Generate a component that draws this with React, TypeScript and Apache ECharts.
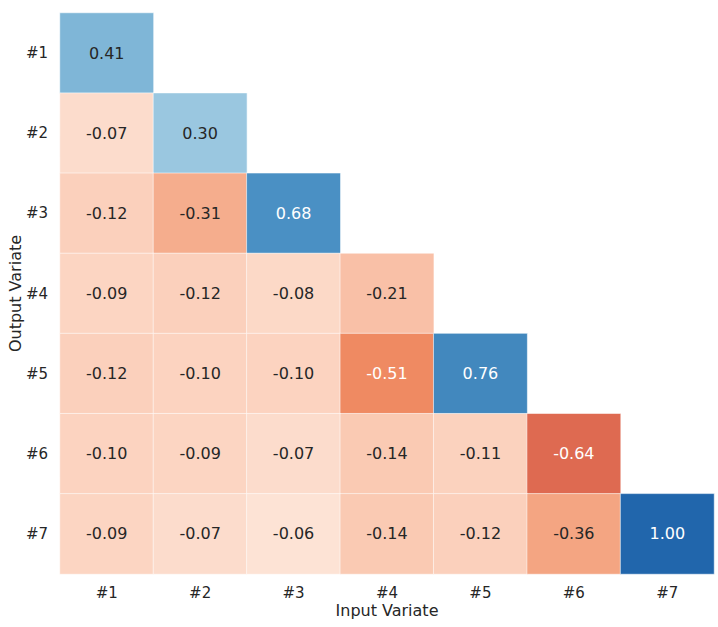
import React, { useEffect, useRef } from "react";
import * as echarts from "echarts";

const inputLabels = ["#1", "#2", "#3", "#4", "#5", "#6", "#7"];
const outputLabels = ["#1", "#2", "#3", "#4", "#5", "#6", "#7"];

const row1 = [0.41];
const row2 = [-0.07, 0.3];
const row3 = [-0.12, -0.31, 0.68];
const row4 = [-0.09, -0.12, -0.08, -0.21];
const row5 = [-0.12, -0.1, -0.1, -0.51, 0.76];
const row6 = [-0.1, -0.09, -0.07, -0.14, -0.11, -0.64];
const row7 = [-0.09, -0.07, -0.06, -0.14, -0.12, -0.36, 1.0];
const rows = [row1, row2, row3, row4, row5, row6, row7];

// colour map anchor stops (value -> colour)
const colorStops: [number, string][] = [
  [-0.64, "#de6a51"],
  [-0.51, "#ef8a62"],
  [-0.36, "#f4a582"],
  [-0.31, "#f5ad8d"],
  [-0.21, "#f9c0a7"],
  [-0.14, "#facab3"],
  [-0.12, "#fbd0bc"],
  [-0.09, "#fcd5c2"],
  [-0.07, "#fcdccc"],
  [-0.06, "#fde3d5"],
  [0.0, "#f7efec"],
  [0.3, "#9ac7e0"],
  [0.41, "#7fb6d7"],
  [0.68, "#4a90c4"],
  [0.76, "#4288be"],
  [1.0, "#2166ac"],
];

function hexToRgb(h: string) {
  const n = parseInt(h.slice(1), 16);
  return [(n >> 16) & 255, (n >> 8) & 255, n & 255];
}
function colorFor(v: number) {
  if (v <= colorStops[0][0]) return colorStops[0][1];
  for (let i = 1; i < colorStops.length; i++) {
    const [v1, c1] = colorStops[i];
    const [v0, c0] = colorStops[i - 1];
    if (v <= v1) {
      const t = (v - v0) / (v1 - v0);
      const a = hexToRgb(c0);
      const b = hexToRgb(c1);
      const m = a.map((x, k) => Math.round(x + (b[k] - x) * t));
      return `rgb(${m[0]},${m[1]},${m[2]})`;
    }
  }
  return colorStops[colorStops.length - 1][1];
}

export default function App() {
  const ref = useRef<HTMLDivElement>(null);
  useEffect(() => {
    document.body.style.margin = "0";
    if (!ref.current) return;
    const chart = echarts.init(ref.current, null, { renderer: "svg" });
    const data: any[] = [];
    rows.forEach((r, y) => {
      r.forEach((v, x) => {
        const dark = v >= 0.5 || v <= -0.45;
        data.push({
          value: [x, y, v],
          label: { color: dark ? "#ffffff" : "#262626" },
        });
      });
    });
    const vmin = -0.64;
    const vmax = 1.0;
    const steps = 328;
    const palette: string[] = [];
    for (let i = 0; i <= steps; i++) palette.push(colorFor(vmin + ((vmax - vmin) * i) / steps));
    const font = "DejaVu Sans";
    chart.setOption({
      animation: false,
      backgroundColor: "#ffffff",
      grid: { left: 60, right: 4, top: 13, bottom: 53, containLabel: false, outerBoundsMode: "none" },
      visualMap: {
        type: "continuous",
        show: false,
        min: vmin,
        max: vmax,
        dimension: 2,
        inRange: { color: palette },
      },
      xAxis: {
        type: "category",
        data: inputLabels,
        name: "Input Variate",
        nameLocation: "middle",
        nameGap: 28,
        nameMoveOverlap: false,
        nameTextStyle: { fontFamily: font, fontSize: 16, color: "#262626" },
        axisLine: { show: false },
        axisTick: { show: false },
        splitLine: { show: false },
        axisLabel: { fontFamily: font, fontSize: 15, color: "#262626", margin: 11 },
      },
      yAxis: {
        type: "category",
        data: outputLabels,
        inverse: true,
        name: "Output Variate",
        nameLocation: "middle",
        nameGap: 37,
        nameMoveOverlap: false,
        nameTextStyle: { fontFamily: font, fontSize: 16, color: "#262626" },
        axisLine: { show: false },
        axisTick: { show: false },
        splitLine: { show: false },
        axisLabel: { fontFamily: font, fontSize: 15, color: "#262626", margin: 12 },
      },
      series: [
        {
          type: "heatmap",
          data,
          label: {
            show: true,
            fontFamily: font,
            fontSize: 16,
            formatter: (p: any) => p.value[2].toFixed(2),
          },
          itemStyle: { borderColor: "rgba(255,255,255,0.55)", borderWidth: 1 },
          emphasis: { disabled: true },
        },
      ],
    });
    return () => chart.dispose();
  }, []);
  return <div ref={ref} style={{ width: 718, height: 627 }} />;
}
